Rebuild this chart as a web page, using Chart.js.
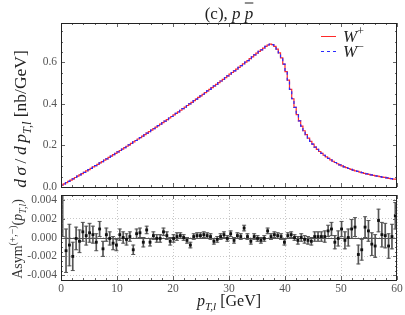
<!DOCTYPE html>
<html><head><meta charset="utf-8">
<script src="https://cdn.jsdelivr.net/npm/chart.js@4"></script>
<style>
html,body{margin:0;padding:0;background:#fff;}
#wrap{position:relative;width:405px;height:315px;overflow:hidden;font-family:"Liberation Serif","DejaVu Serif",serif;color:#222;}
canvas{position:absolute;left:0;}
#c1{top:0}
#c2{top:180px}
.lbl{position:absolute;white-space:nowrap;line-height:1;}
.rot{transform:translate(-50%,-50%) rotate(-90deg);}
.hc{transform:translate(-50%,-50%);}
sub,sup{font-size:70%;line-height:0;}
.ln{position:absolute;width:15px;height:1px;}
</style></head><body>
<div id="wrap">
<canvas id="c1" width="405" height="200"></canvas>
<canvas id="c2" width="405" height="135"></canvas>
<div class="lbl hc" style="left:229px;top:13px;font-size:17px;">(c), <i>p</i>&nbsp;<i style="text-decoration:overline;">p</i></div>
<div class="lbl rot" style="left:21px;top:119px;font-size:17.5px;"><i>d</i>&thinsp;<i>σ</i>&thinsp;/&thinsp;<i>d</i>&thinsp;<i>p</i><sub><i>T,l</i></sub> [nb/GeV]</div>
<div class="lbl rot" style="left:18px;top:239px;font-size:14px;color:#333;">Asym<sup>(+,−)</sup>(<i>p</i><sub><i>T,l</i></sub>)</div>
<div class="lbl hc" style="left:229px;top:301px;font-size:16px;"><i>p</i><sub><i>T,l</i></sub> [GeV]</div>
<div class="ln" style="left:321px;top:36px;background:#ff2a2a;"></div>
<div class="lbl" style="left:343px;top:28px;font-size:17px;"><i>W</i><sup>+</sup></div>
<div class="ln" style="left:321px;top:51px;background:repeating-linear-gradient(to right,#2a2aff 0 3px,transparent 3px 6px);"></div>
<div class="lbl" style="left:343px;top:43px;font-size:17px;"><i>W</i><sup>−</sup></div>
</div>
<script>
// ---------------- data ----------------
const histBinWidth = 0.4;   // GeV, distribution histogram
const asymBinWidth = 0.6;   // GeV, asymmetry bins
const wPlus = [
0.0030,0.0090,0.0151,0.0212,0.0273,0.0334,0.0396,0.0458,0.0520,0.0583,
0.0646,0.0709,0.0773,0.0836,0.0900,0.0965,0.1029,0.1094,0.1159,0.1225,
0.1291,0.1357,0.1423,0.1490,0.1556,0.1624,0.1691,0.1759,0.1827,0.1895,
0.1964,0.2033,0.2102,0.2172,0.2241,0.2311,0.2382,0.2453,0.2523,0.2595,
0.2666,0.2738,0.2810,0.2882,0.2955,0.3028,0.3101,0.3175,0.3249,0.3323,
0.3397,0.3472,0.3547,0.3622,0.3698,0.3774,0.3850,0.3926,0.4003,0.4080,
0.4157,0.4235,0.4313,0.4391,0.4469,0.4548,0.4627,0.4706,0.4786,0.4866,
0.4946,0.5026,0.5107,0.5188,0.5269,0.5351,0.5433,0.5515,0.5597,0.5680,
0.5763,0.5847,0.5930,0.6014,0.609,0.618,0.627,0.636,0.645,0.653,
0.661,0.669,0.677,0.684,0.688,0.686,0.677,0.664,0.646,0.622,
0.592,0.556,0.515,0.470,0.425,0.384,0.349,0.319,0.293,0.271,
0.252,0.235,0.220,0.207,0.192,0.181,0.171,0.162,0.153,0.145,
0.138,0.131,0.124,0.118,0.112,0.107,0.102,0.097,0.093,0.089,
0.085,0.081,0.078,0.075,0.072,0.069,0.066,0.063,0.061,0.058,
0.056,0.054,0.052,0.050,0.048,0.046,0.044,0.042,0.040,0.038];
const wMinus = [
0.0030,0.0091,0.0151,0.0211,0.0273,0.0335,0.0396,0.0457,0.0520,0.0584,
0.0646,0.0708,0.0773,0.0837,0.0900,0.0964,0.1029,0.1095,0.1159,0.1224,
0.1291,0.1358,0.1423,0.1489,0.1556,0.1625,0.1691,0.1758,0.1827,0.1896,
0.1964,0.2032,0.2102,0.2173,0.2241,0.2310,0.2382,0.2454,0.2523,0.2594,
0.2666,0.2739,0.2810,0.2881,0.2955,0.3029,0.3101,0.3174,0.3249,0.3324,
0.3397,0.3471,0.3547,0.3623,0.3698,0.3773,0.3850,0.3927,0.4003,0.4079,
0.4157,0.4236,0.4313,0.4390,0.4469,0.4549,0.4627,0.4705,0.4786,0.4867,
0.4946,0.5025,0.5107,0.5189,0.5269,0.5350,0.5433,0.5516,0.5597,0.5679,
0.5763,0.5848,0.5930,0.6013,0.609,0.618,0.627,0.636,0.645,0.653,
0.661,0.669,0.677,0.684,0.688,0.686,0.677,0.664,0.646,0.622,
0.592,0.556,0.515,0.470,0.425,0.384,0.349,0.319,0.293,0.271,
0.252,0.235,0.220,0.207,0.192,0.181,0.171,0.162,0.153,0.145,
0.138,0.131,0.124,0.118,0.112,0.107,0.102,0.097,0.093,0.089,
0.085,0.081,0.078,0.075,0.072,0.069,0.066,0.063,0.061,0.058,
0.056,0.054,0.052,0.050,0.048,0.046,0.044,0.042,0.040,0.038];
const asym = [
0.0070,-0.0014,-0.0008,-0.0020,-0.0001,-0.0004,0.0006,0.0002,0.0005,0.0003,
-0.0005,0.0009,-0.0012,0.0003,-0.0001,-0.0006,-0.0008,0.0003,0.0000,-0.0002,
0.0001,-0.0013,0.0004,0.0005,-0.0005,0.0008,-0.0005,0.0002,-0.0001,-0.0001,
0.0006,0.0002,-0.0004,-0.0001,0.0001,0.0002,0.0000,-0.0003,-0.0008,0.0001,
0.0002,0.0002,0.0003,0.0002,0.0001,-0.0004,-0.0002,0.0001,0.0003,-0.0001,
0.0004,-0.0003,0.0002,0.0001,0.0010,0.0001,-0.0004,0.0001,-0.0001,-0.0003,
-0.0001,0.0007,0.0001,0.0003,0.0002,0.0001,-0.0005,0.0002,0.0003,0.0000,
-0.0003,0.0000,-0.0002,-0.0003,-0.0004,0.0001,0.0001,0.0001,0.0001,0.0007,
0.0009,-0.0005,-0.0001,0.0009,-0.0003,0.0000,0.0009,0.0011,-0.0018,-0.0013,
0.0011,0.0007,-0.0007,-0.0009,0.0018,0.0003,0.0002,-0.0009,0.0001,0.0023];
const asymErr = [
0.0069,0.0023,0.0022,0.0015,0.0012,0.0012,0.0010,0.0010,0.0010,0.0009,
0.0009,0.0008,0.0008,0.0007,0.0007,0.0007,0.0006,0.0006,0.0006,0.0006,
0.0005,0.0005,0.0005,0.0005,0.0005,0.0004,0.0004,0.0004,0.0004,0.0004,
0.0004,0.0004,0.0004,0.0004,0.0004,0.0003,0.0003,0.0003,0.0003,0.0003,
0.0003,0.0003,0.0003,0.0003,0.0003,0.0003,0.0003,0.0003,0.0003,0.0003,
0.0003,0.0003,0.0003,0.0003,0.0003,0.0003,0.0003,0.0003,0.0003,0.0003,
0.0003,0.0003,0.0003,0.0003,0.0003,0.0003,0.0003,0.0003,0.0003,0.0003,
0.0004,0.0004,0.0004,0.0004,0.0004,0.0005,0.0005,0.0005,0.0006,0.0006,
0.0007,0.0007,0.0008,0.0008,0.0009,0.0009,0.0010,0.0010,0.0010,0.0011,
0.0011,0.0011,0.0012,0.0012,0.0012,0.0013,0.0013,0.0013,0.0013,0.0014];
const xTicks = [0,10,20,30,40,50,60];
const yTicksTop = [0.0,0.2,0.4,0.6];
const yTickLabelsTop = ['0.0','0.2','0.4','0.6'];
const yTicksBottom = [-0.004,-0.002,0,0.002,0.004];
const yTickLabelsBottom = ['-0.004','-0.002','0.000','0.002','0.004'];

// ---------------- derived tables ----------------
const histLow = wPlus.map((_,i)=>i*histBinWidth);
const histEnd = wPlus.length*histBinWidth;
const asymMid = asym.map((_,i)=>(i+0.5)*asymBinWidth);
const stepData = vals => histLow.map((x,i)=>({x, y: vals[i]})).concat([{x: histEnd, y: vals[vals.length-1]}]);

const tickFont = {family:'"Liberation Serif","DejaVu Serif",serif', size:11.5};
const tickColor = '#555';

function frameTicks(opts){
  return {
    id:'frameTicks',
    beforeDatasetsDraw(chart){
      if(!opts.zeroLine) return;
      const {ctx, chartArea:a, scales:{y}} = chart;
      const py = Math.round(y.getPixelForValue(0))+0.5;
      ctx.save(); ctx.strokeStyle='#555'; ctx.lineWidth=1;
      ctx.beginPath(); ctx.moveTo(a.left,py); ctx.lineTo(a.right,py); ctx.stroke(); ctx.restore();
    },
    afterDatasetsDraw(chart){
      const {ctx, chartArea:a, scales:{x,y}} = chart;
      ctx.save();
      ctx.strokeStyle='#666'; ctx.lineWidth=1;
      ctx.beginPath();
      const xv = (v,len)=>{const p=Math.round(x.getPixelForValue(v))+0.5; ctx.moveTo(p,a.bottom); ctx.lineTo(p,a.bottom-len); ctx.moveTo(p,a.top); ctx.lineTo(p,a.top+len);};
      const yv = (v,len)=>{const p=Math.round(y.getPixelForValue(v))+0.5; ctx.moveTo(a.left,p); ctx.lineTo(a.left+len,p); ctx.moveTo(a.right,p); ctx.lineTo(a.right-len,p);};
      for(let v=x.min; v<=x.max+1e-9; v+=opts.xMinor) xv(v,2);
      opts.xMajor.forEach(v=>xv(v,4));
      for(let k=Math.ceil(y.min/opts.yMinor); k*opts.yMinor<=y.max+1e-12; k++) yv(k*opts.yMinor,2);
      opts.yMajor.forEach(v=>yv(v,4));
      ctx.stroke();
      ctx.strokeStyle='#222';
      ctx.strokeRect(Math.round(a.left)+0.5, Math.round(a.top)+0.5, Math.round(a.right-a.left)-1, Math.round(a.bottom-a.top));
      ctx.restore();
    }
  };
}

// ---------------- top chart ----------------
new Chart(document.getElementById('c1'), {
  type:'line',
  data:{datasets:[
    {label:'W+', data:stepData(wPlus), stepped:'after', borderColor:'#ff2a2a', borderWidth:1.2, pointRadius:0, fill:false, order:1},
    {label:'W−', data:stepData(wMinus), stepped:'after', borderColor:'#2a2aff', borderWidth:1.2, borderDash:[3,3], pointRadius:0, fill:false, order:0}
  ]},
  options:{
    responsive:false, animation:false, events:[],
    layout:{padding:{top:23,right:8,bottom:13,left:0}},
    plugins:{legend:{display:false}, tooltip:{enabled:false}},
    scales:{
      x:{type:'linear', min:0, max:60, display:false},
      y:{type:'linear', min:0, max:0.79,
         afterFit:s=>{s.width=61;},
         afterBuildTicks:s=>{s.ticks=yTicksTop.map(v=>({value:v}));},
         ticks:{font:tickFont, color:tickColor, padding:4, callback:(v)=>yTickLabelsTop[yTicksTop.indexOf(v)] ?? ''},
         grid:{drawOnChartArea:false, drawTicks:false}, border:{display:false}}
    }
  },
  plugins:[frameTicks({xMajor:xTicks, xMinor:2, yMajor:yTicksTop, yMinor:0.05})]
});

// ---------------- bottom chart ----------------
new Chart(document.getElementById('c2'), {
  type:'bar',
  data:{datasets:[
    {type:'scatter', label:'asym', data:asymMid.map((x,i)=>({x, y:asym[i]})), pointStyle:'rect', pointRadius:2, backgroundColor:'#111', borderWidth:0, order:0},
    {type:'scatter', label:'caps', data:asymMid.map((x,i)=>({x, y:asym[i]+asymErr[i]})).concat(asymMid.map((x,i)=>({x, y:asym[i]-asymErr[i]}))), pointStyle:'line', pointRadius:2, borderColor:'#555', borderWidth:1, order:1},
    {type:'bar', label:'err', data:asymMid.map((x,i)=>({x, y:[asym[i]-asymErr[i], asym[i]+asymErr[i]]})), backgroundColor:'#555', barThickness:1, borderWidth:0, order:2}
  ]},
  options:{
    responsive:false, animation:false, events:[],
    layout:{padding:{top:15,right:8,bottom:0,left:0}},
    plugins:{legend:{display:false}, tooltip:{enabled:false}},
    scales:{
      x:{type:'linear', min:0, max:60, offset:false,
         afterFit:s=>{s.height=35;},
         afterBuildTicks:s=>{s.ticks=xTicks.map(v=>({value:v}));},
         ticks:{font:tickFont, color:tickColor, padding:2, maxRotation:0, callback:v=>String(v)},
         grid:{color:'#c8c8c8', drawTicks:false, offset:false}, border:{display:false, dash:[1,2]}},
      y:{type:'linear', min:-0.0045, max:0.0045,
         afterFit:s=>{s.width=61;},
         afterBuildTicks:s=>{s.ticks=yTicksBottom.map(v=>({value:v}));},
         ticks:{font:tickFont, color:tickColor, padding:4, callback:(v)=>yTickLabelsBottom[yTicksBottom.findIndex(t=>Math.abs(t-v)<1e-9)] ?? ''},
         grid:{color:'#c8c8c8', drawTicks:false}, border:{display:false, dash:[1,2]}}
    }
  },
  plugins:[frameTicks({xMajor:xTicks, xMinor:2, yMajor:yTicksBottom, yMinor:0.0005, zeroLine:true})]
});
</script>
</body></html>
